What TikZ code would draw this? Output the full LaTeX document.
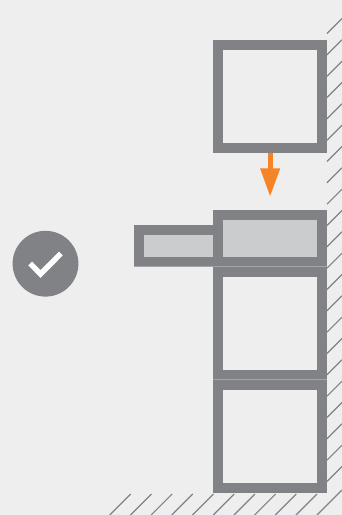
\documentclass[tikz,border=0pt]{standalone}
\definecolor{bgc}{HTML}{EEEEEE}
\definecolor{frameg}{HTML}{808285}
\definecolor{lightg}{HTML}{CBCCCE}
\definecolor{seamg}{HTML}{A4A5A8}
\definecolor{orangea}{HTML}{F58426}
\tikzset{
  hatchline/.style={draw=frameg,line width=1.2pt},
  framefill/.style={fill=frameg},
  innerlight/.style={fill=lightg},
  innerbg/.style={fill=bgc},
  arrowfill/.style={fill=orangea},
  seamline/.style={draw=seamg,line width=0.4pt},
  tickline/.style={draw=white,line width=5.4pt,miter limit=10}
}
\begin{document}
\begin{tikzpicture}[x=1pt,y=-1pt]
\useasboundingbox (0,0) rectangle (342,515);
\fill[bgc] (0,0) rectangle (342,515);
% wall hatching (right)
\foreach \k in {0,...,21}{
  \pgfmathsetmacro{\yy}{33.5+21.33*\k}
  \draw[hatchline] (327,\yy) -- (342,\yy-15);
}
% floor hatching (bottom)
\foreach \k in {0,...,9}{
  \pgfmathsetmacro{\xx}{130.7+20.7*\k}
  \draw[hatchline] (\xx,494) -- (\xx-21,515);
}
\draw[hatchline] (342,490) -- (317,515);
% top box
\fill[framefill] (213.2,39.5) rectangle (326.8,153);
\fill[innerbg] (223.3,49.5) rectangle (317,143);
% lower boxes
\fill[framefill] (213.2,266.5) rectangle (326.8,493.3);
\fill[innerbg] (223.3,276.5) rectangle (317,369.5);
\fill[innerbg] (223.3,389.5) rectangle (317,483.4);
\draw[seamline] (213.2,379.5) -- (326.8,379.5);
% middle box with side extension
\fill[framefill] (213.2,209.5) rectangle (326.8,266.5);
\fill[framefill] (134.2,225) rectangle (213.2,266.5);
\fill[innerlight] (223.3,219.5) rectangle (317,256.5);
\fill[innerlight] (144.3,235) rectangle (213,256.5);
\draw[seamline] (134.2,266.6) -- (326.8,266.6);
% orange arrow
\fill[arrowfill] (267.7,153) rectangle (272.7,168.5);
\fill[arrowfill] (260,168.3) -- (280.3,168.3) -- (270.1,196) -- cycle;
% check badge
\node[circle,fill=frameg,minimum size=65.8pt,inner sep=0pt,outer sep=0pt] (badge) at (45.5,263.7) {};
\draw[tickline] (30.2,263.5) -- (40.5,274) -- (60.9,253.5);
\end{tikzpicture}
\end{document}
